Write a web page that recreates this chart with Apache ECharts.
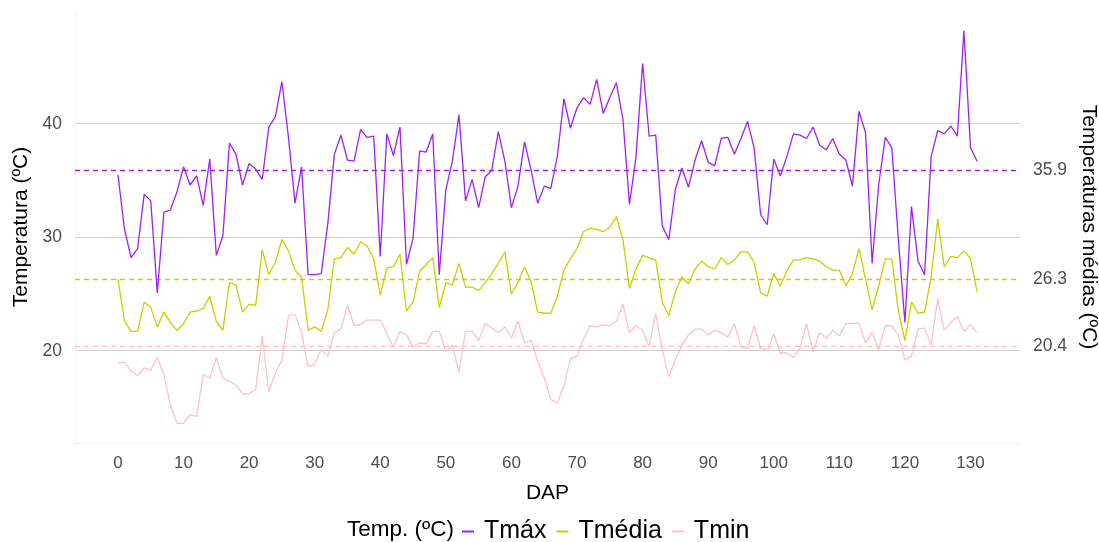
<!DOCTYPE html>
<html>
<head>
<meta charset="utf-8">
<script src="https://cdn.jsdelivr.net/npm/echarts@6/dist/echarts.min.js"></script>
<style>
html,body{margin:0;padding:0;background:#fff;overflow:hidden;}
#chart{width:1099px;height:542px;}
</style>
</head>
<body>
<div id="chart"></div>
<script>
// ---- data ----
const tmax = [35.5,30.7,28.2,29.0,33.8,33.2,25.1,32.2,32.4,34.0,36.2,34.6,35.4,32.8,36.9,28.4,30.1,38.3,37.3,34.6,
36.5,36.0,35.1,39.7,40.6,43.7,38.8,33.0,36.2,26.7,26.7,26.8,31.2,37.3,39.0,36.8,36.7,39.5,38.8,38.9,
28.3,39.1,37.2,39.7,27.6,29.9,37.6,37.5,39.1,26.7,34.2,36.7,40.8,33.2,35.1,32.6,35.3,35.9,39.3,36.7,
32.6,34.5,38.4,35.9,33.0,34.5,34.3,37.1,42.2,39.6,41.4,42.3,41.7,43.9,40.9,42.3,43.6,40.4,32.9,37.1,
45.3,38.9,39.0,31.0,29.8,34.2,36.1,34.4,36.8,38.5,36.6,36.3,38.7,38.8,37.3,38.7,40.2,37.9,32.0,31.1,
36.9,35.4,37.1,39.1,39.0,38.7,39.7,38.1,37.7,38.7,37.3,36.8,34.5,41.1,39.2,27.7,34.6,38.8,37.9,29.8,
22.5,32.7,27.9,26.7,37.1,39.4,39.1,39.8,38.9,48.2,37.9,36.7];
const tmedia = [26.3,22.6,21.7,21.7,24.3,23.8,22.1,23.4,22.5,21.8,22.4,23.4,23.5,23.7,24.8,22.6,21.8,26.0,25.8,23.4,
24.1,24.0,28.9,26.7,27.8,29.8,28.8,27.1,26.5,21.8,22.1,21.7,23.6,28.1,28.2,29.1,28.5,29.6,29.2,28.1,
24.9,27.3,27.4,28.5,23.5,24.3,27.0,27.6,28.2,23.8,26.0,25.8,27.7,25.6,25.6,25.3,26.0,26.8,27.7,28.7,
25.0,26.0,27.4,26.1,23.4,23.3,23.3,24.8,27.1,28.1,29.0,30.5,30.8,30.7,30.5,30.9,31.8,29.8,25.5,27.2,
28.4,28.2,28.0,24.3,23.1,25.2,26.5,25.9,27.2,27.9,27.4,27.2,28.2,27.6,28.0,28.7,28.7,27.8,25.1,24.8,
26.8,25.7,27.0,28.0,28.0,28.2,28.1,27.9,27.4,27.1,27.1,25.7,26.8,29.0,26.3,23.6,25.7,28.1,28.1,23.5,
20.9,24.3,23.3,23.4,26.5,31.6,27.4,28.3,28.2,28.8,28.1,25.2];
const tmin = [18.9,19.0,18.2,17.8,18.5,18.3,19.4,17.9,15.2,13.6,13.6,14.4,14.2,17.9,17.6,19.4,17.6,17.3,17.0,16.2,
16.2,16.6,21.3,16.4,18.0,19.2,23.1,23.2,21.6,18.6,18.8,20.1,19.5,21.6,21.9,24.0,22.2,22.3,22.7,22.7,
22.7,21.5,20.3,21.7,21.4,20.3,20.7,20.6,21.7,21.7,19.9,20.5,18.1,21.7,21.7,20.9,22.4,22.0,21.6,22.1,
21.1,22.6,20.7,20.9,19.1,17.6,15.7,15.4,16.9,19.3,19.5,21.1,22.2,22.1,22.3,22.2,22.6,24.1,21.6,22.2,
21.8,20.4,23.3,20.1,17.7,19.2,20.5,21.4,21.9,21.9,21.4,21.8,21.6,21.2,22.4,20.3,20.2,22.2,20.2,20.0,
21.5,19.8,19.8,19.4,20.2,22.4,19.9,21.6,21.1,21.8,21.3,22.4,22.4,22.4,20.7,21.6,20.1,22.2,22.2,21.4,
19.2,19.5,21.9,22.0,20.5,24.6,21.8,22.5,23.0,21.7,22.3,21.6];
const seriesNames = ['Tmáx','Tmédia','Tmin'];
const meanValues = [35.9, 26.3, 20.4];
const xTicks = [0,10,20,30,40,50,60,70,80,90,100,110,120,130];
const yTicks = [20,30,40];

// ---- chart ----
const colors = ['#A020F0','#CDCD00','#FFC0CB'];
const days = tmax.map((_, i) => i);
const all = [tmax, tmedia, tmin];
const font = 'Liberation Sans, Arial, sans-serif';

const chart = echarts.init(document.getElementById('chart'));
const series = all.map((arr, k) => ({
  name: seriesNames[k],
  type: 'line',
  data: days.map((d, i) => [d, arr[i]]),
  showSymbol: false,
  symbol: 'none',
  lineStyle: {color: colors[k], width: 1.3},
  itemStyle: {color: colors[k]},
  z: 5 - k,
  markLine: {
    silent: true,
    symbol: 'none',
    label: {show: false},
    lineStyle: {color: colors[k], type: [5, 4], width: 1.3},
    data: [{yAxis: meanValues[k]}]
  }
}));

chart.setOption({
  animation: false,
  backgroundColor: '#fff',
  textStyle: {fontFamily: font},
  grid: {left: 75, right: 79, top: 11, bottom: 99, containLabel: false, outerBoundsMode: 'none'},
  xAxis: {
    type: 'value', min: -6.55, max: 137.55,
    name: 'DAP', nameLocation: 'middle', nameGap: 40,
    nameTextStyle: {fontSize: 21, color: '#000', fontFamily: font},
    axisLine: {show: true, onZero: false, lineStyle: {color: '#f2f2f2'}},
    axisTick: {show: false, customValues: xTicks},
    axisLabel: {customValues: xTicks, color: '#4d4d4d', fontSize: 17, margin: 12, fontFamily: font},
    splitLine: {show: false}
  },
  yAxis: [{
    type: 'value', min: 11.87, max: 49.93,
    name: 'Temperatura (ºC)', nameLocation: 'middle', nameGap: 42, nameRotate: 90,
    nameTextStyle: {fontSize: 21, color: '#000', fontFamily: font},
    axisLine: {show: true, onZero: false, lineStyle: {color: '#f2f2f2'}},
    axisTick: {show: false, customValues: yTicks},
    axisLabel: {customValues: yTicks, color: '#4d4d4d', fontSize: 17.5, margin: 13, fontFamily: font},
    splitLine: {show: true, lineStyle: {color: '#d3d3d3', width: 1.1}}
  }, {
    type: 'value', min: 11.87, max: 49.93, position: 'right',
    name: 'Temperaturas médias (ºC)', nameLocation: 'middle', nameGap: 58, nameRotate: -90,
    nameTextStyle: {fontSize: 21, color: '#000', fontFamily: font},
    axisLine: {show: false},
    axisTick: {show: false, customValues: meanValues},
    axisLabel: {customValues: meanValues, color: '#4d4d4d', fontSize: 17.5, margin: 13, fontFamily: font,
      formatter: v => v.toFixed(1)},
    splitLine: {show: false}
  }],
  legend: {
    data: seriesNames,
    left: 457, top: 514,
    icon: 'path://M0,0 L12,0 L12,2 L0,2 Z',
    itemWidth: 12, itemHeight: 2, itemGap: 10,
    textStyle: {fontSize: 25, color: '#000', fontFamily: font, padding: [0, 0, 0, 5]}
  },
  graphic: [{
    type: 'text', left: 347, top: 518,
    style: {text: 'Temp. (ºC)', fontSize: 22.5, fill: '#000', fontFamily: font}
  }],
  series: series
});
</script>
</body>
</html>
